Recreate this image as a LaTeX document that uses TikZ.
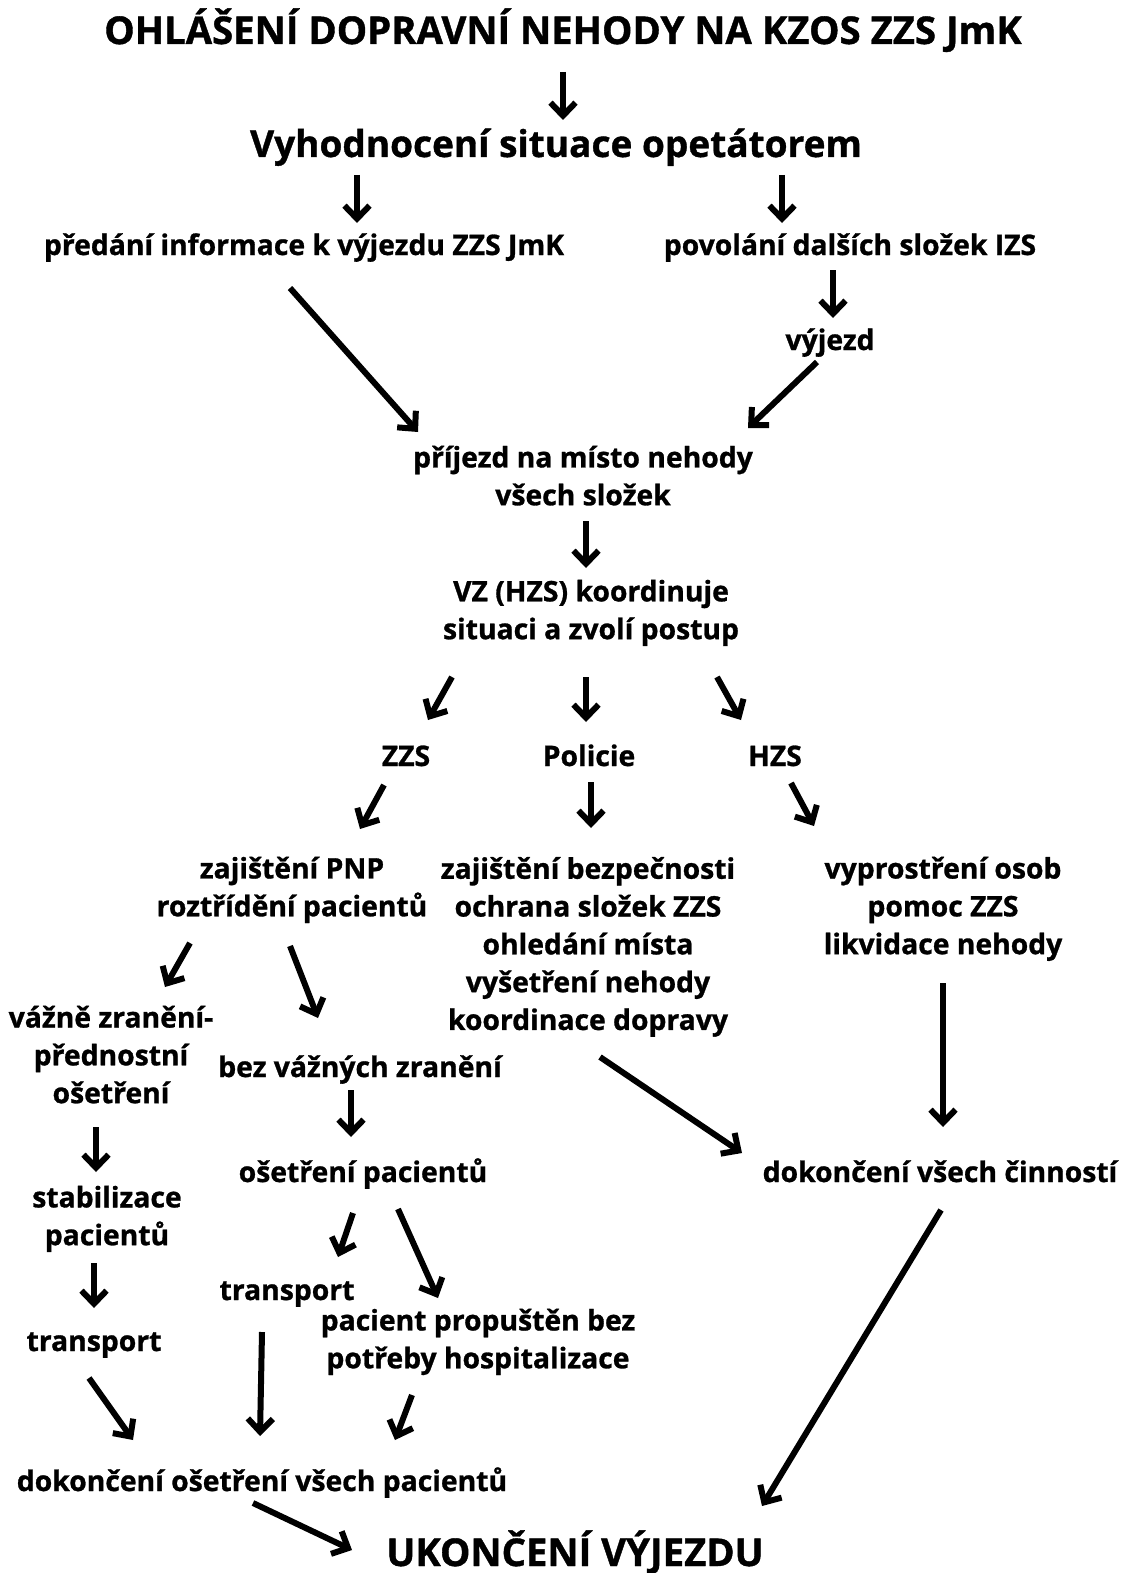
\documentclass[tikz,border=0pt]{standalone}
\usepackage{fontspec}
\newfontfamily\osb{Open Sans Bold}[FakeBold=1]
\usetikzlibrary{arrows.meta}
\newcommand{\sxs}{\rule[-7pt]{0pt}{40pt}}
\newcommand{\sxb}{\rule[-18pt]{0pt}{58pt}}
\tikzset{
  txt/.style={font=\osb\fontsize{28.3}{37.8}\selectfont, align=center, inner sep=0pt,
    execute at begin node=\sxs, execute at end node=\sxs},
  big/.style={font=\osb\fontsize{38.3}{44}\selectfont, align=center, inner sep=0pt,
    execute at begin node=\sxb},
  arr/.style={line width=6pt, -{Straight Barb[length=13pt,width=25pt,line width=6pt]}},
}
\newcommand{\arrw}[6]{\draw[arr] ([shift={(#2,#3)}]#1.center) -- ([shift={(#5,#6)}]#4.center);}
\begin{document}
\begin{tikzpicture}[x=1pt,y=-1pt]
\useasboundingbox[fill=white] (0,0) rectangle (1134,1573);
\node[big] (title) at (563,33) {OHLÁŠENÍ DOPRAVNÍ NEHODY NA KZOS ZZS JmK};
\node[big,font=\osb\fontsize{37}{44}\selectfont] (vyh) at (556,146) {Vyhodnocení situace opetátorem};
\node[txt] (predani) at (304,242) {předání informace k výjezdu ZZS JmK};
\node[txt] (povolani) at (850,242) {povolání dalších složek IZS};
\node[txt] (vyjezd) at (830,337) {výjezd};
\node[txt] (prijezd) at (583,479) {příjezd na místo nehody\\všech složek};
\node[txt] (vz) at (591,613) {VZ (HZS) koordinuje\\situaci a zvolí postup};
\node[txt] (zzs) at (406,753) {ZZS};
\node[txt] (policie) at (589,753) {Policie};
\node[txt] (hzs) at (775,753) {HZS};
\node[txt] (pnp) at (292,890) {zajištění PNP\\roztřídění pacientů};
\node[txt] (bezp) at (588,947) {zajištění bezpečnosti\\ochrana složek ZZS\\ohledání místa\\vyšetření nehody\\koordinace dopravy};
\node[txt] (vypr) at (943,909) {vyprostření osob\\pomoc ZZS\\likvidace nehody};
\node[txt] (vazne) at (111,1058) {vážně zranění-\\přednostní\\ošetření};
\node[txt] (bez) at (360,1064) {bez vážných zranění};
\node[txt] (oset) at (363,1169) {ošetření pacientů};
\node[txt] (stabil) at (107,1219) {stabilizace\\pacientů};
\node[txt] (tra) at (94,1338) {transport};
\node[txt] (trb) at (287,1287) {transport};
\node[txt] (prop) at (478,1342) {pacient propuštěn bez\\potřeby hospitalizace};
\node[txt] (dcin) at (940,1169) {dokončení všech činností};
\node[txt] (dos) at (262,1478) {dokončení ošetření všech pacientů};
\node[big] (ukon) at (575,1555) {UKONČENÍ VÝJEZDU};
\arrw{title}{0}{39}{vyh}{7}{-26}
\arrw{vyh}{-199}{29}{predani}{53}{-19}
\arrw{vyh}{226}{29}{povolani}{-68}{-19}
\arrw{povolani}{-17}{28}{vyjezd}{3}{-19}
\arrw{predani}{-14}{46}{prijezd}{-165}{-47}
\arrw{vyjezd}{-13}{25}{prijezd}{165}{-51}
\arrw{prijezd}{3}{42}{vz}{-5}{-45}
\arrw{vz}{-139}{64}{zzs}{22}{-33}
\arrw{vz}{-5}{64}{policie}{-3}{-31}
\arrw{vz}{126}{64}{hzs}{-34}{-33}
\arrw{zzs}{-22}{32}{pnp}{68}{-61}
\arrw{policie}{2}{29}{bezp}{3}{-119}
\arrw{hzs}{16}{30}{vypr}{-129}{-83}
\arrw{pnp}{-102}{53}{vazne}{54}{-71}
\arrw{pnp}{-2}{56}{bez}{-42}{-46}
\arrw{bez}{-9}{26}{oset}{-12}{-32}
\arrw{vazne}{-15}{69}{stabil}{-11}{-47}
\arrw{stabil}{-13}{44}{tra}{0}{-30}
\arrw{oset}{-10}{44}{trb}{51}{-30}
\arrw{oset}{35}{40}{prop}{-40}{-44}
\arrw{bezp}{12}{110}{dcin}{-198}{-16}
\arrw{vypr}{0}{74}{dcin}{3}{-42}
\arrw{tra}{-5}{40}{dos}{-129}{-38}
\arrw{trb}{-25}{45}{dos}{-2}{-42}
\arrw{prop}{-66}{53}{dos}{133}{-38}
\arrw{dcin}{1}{41}{ukon}{187}{-49}
\arrw{dos}{-9}{25}{ukon}{-223}{-5}
\end{tikzpicture}
\end{document}
